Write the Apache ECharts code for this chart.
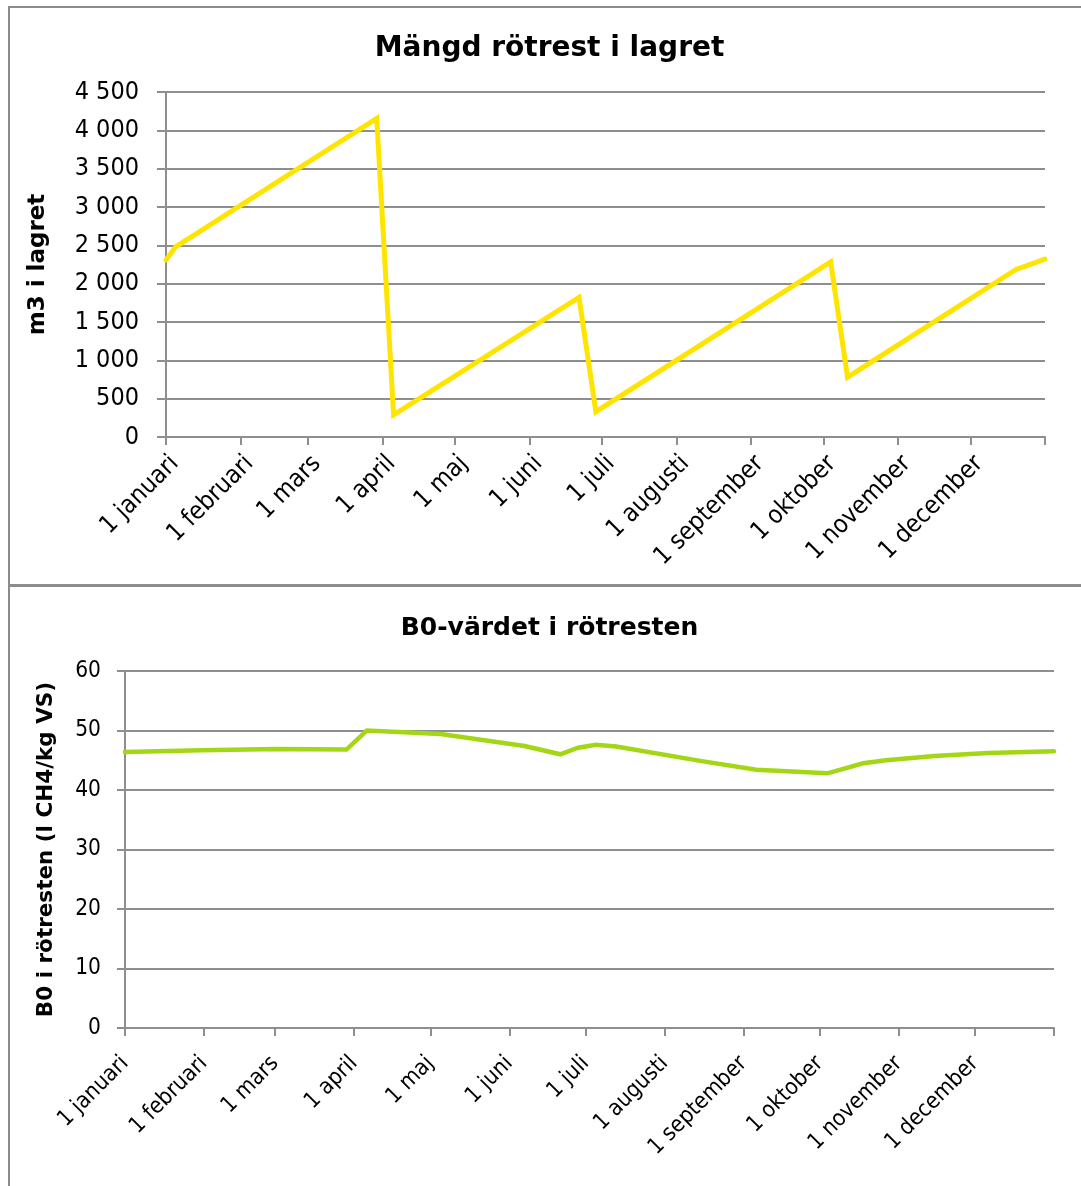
<!DOCTYPE html>
<html>
<head>
<meta charset="utf-8">
<script src="https://cdn.jsdelivr.net/npm/echarts@6/dist/echarts.min.js"></script>
<style>
  html, body { margin: 0; padding: 0; background: #fff; }
  #page { position: relative; width: 1081px; height: 1186px; overflow: hidden; background: #fff; }
  .panel { position: absolute; box-sizing: border-box; border: 2px solid #8c8c8c; background: #fff; }
  #storage { left: 8px; top: 6px; width: 1200px; height: 580px; }
  #b0 { left: 8px; top: 585px; width: 1200px; height: 700px; }
  .chart { position: absolute; left: 0; top: 0; width: 1079px; height: 100%; }
</style>
</head>
<body>
<div id="page">
  <div class="panel" id="storage"><div class="chart" id="storageChart"></div></div>
  <div class="panel" id="b0"><div class="chart" id="b0Chart"></div></div>
</div>
<script>
// Month axis: day-of-year where each month starts, plus the end of the year
const monthLabels = ['1 januari', '1 februari', '1 mars', '1 april', '1 maj', '1 juni',
  '1 juli', '1 augusti', '1 september', '1 oktober', '1 november', '1 december'];
const monthStartDays = [0, 31, 59, 90, 120, 151, 181, 212, 243, 273, 304, 334];
const yearEndDay = 365;

// Amount of digestate in storage (m3), corner points of the fill/empty cycle
const storageDays = [0, 4, 87.5, 94.5, 171.5, 178.5, 276, 283, 353, 365];
const storageVolume = [2310, 2480, 4155, 290, 1820, 330, 2285, 780, 2185, 2320];

// B0 value of the digestate (l CH4/kg VS)
const b0Days = [0, 30, 60, 87, 95, 124, 157, 171, 178, 185, 193, 226, 248, 276, 290, 299, 318, 339, 365];
const b0Values = [46.4, 46.7, 46.9, 46.8, 50.0, 49.4, 47.4, 46.0, 47.1, 47.6, 47.3, 44.9, 43.4, 42.8, 44.5, 45.0, 45.7, 46.2, 46.5];

// Y axis ranges
const storageAxis = { min: 0, max: 4500, interval: 500 };
const b0Axis = { min: 0, max: 60, interval: 10 };

const FONT = "'DejaVu Sans Condensed', 'DejaVu Sans', sans-serif";
const BOLD_FONT = "'DejaVu Sans', sans-serif";
const GRID_COLOR = '#8e8e8e';

function pairs(xs, ys) { return xs.map((x, i) => [x, ys[i]]); }

function spaced(v) {
  if (v < 1000) return String(v);
  const th = Math.floor(v / 1000);
  const rest = String(v % 1000).padStart(3, '0');
  return th + ' ' + rest;
}

function monthLabel(v) {
  const i = monthStartDays.indexOf(v);
  return i >= 0 ? monthLabels[i] : '';
}

function buildOption(cfg) {
  return {
    animation: false,
    backgroundColor: '#fff',
    title: {
      text: cfg.title,
      left: 'center',
      top: cfg.titleTop,
      padding: 0,
      textStyle: { fontFamily: BOLD_FONT, fontWeight: 'bold', fontSize: cfg.titleSize, color: '#000' }
    },
    grid: cfg.grid,
    xAxis: {
      type: 'value',
      min: 0,
      max: yearEndDay,
      axisLine: { show: true, onZero: false, lineStyle: { color: GRID_COLOR, width: 2 } },
      axisTick: {
        show: true, length: 8, inside: false,
        customValues: monthStartDays.concat([yearEndDay]),
        lineStyle: { color: GRID_COLOR, width: 2 }
      },
      axisLabel: {
        show: true,
        customValues: monthStartDays,
        rotate: 45,
        align: 'right',
        verticalAlign: cfg.xLabelVAlign,
        margin: cfg.xLabelMargin,
        formatter: monthLabel,
        fontFamily: FONT, fontSize: cfg.labelSize, color: '#000'
      },
      splitLine: { show: false }
    },
    yAxis: {
      type: 'value',
      min: cfg.yAxis.min,
      max: cfg.yAxis.max,
      interval: cfg.yAxis.interval,
      name: cfg.yName,
      nameLocation: 'middle',
      nameRotate: 90,
      nameGap: cfg.yNameGap,
      nameTextStyle: { fontFamily: BOLD_FONT, fontWeight: 'bold', fontSize: cfg.yNameSize, color: '#000' },
      axisLine: { show: true, lineStyle: { color: GRID_COLOR, width: 2 } },
      axisTick: { show: true, length: cfg.yTickLen, lineStyle: { color: GRID_COLOR, width: 2 } },
      axisLabel: {
        margin: cfg.yLabelMargin,
        formatter: cfg.yFormatter,
        fontFamily: FONT, fontSize: cfg.labelSize, color: '#000'
      },
      splitLine: { show: true, lineStyle: { color: GRID_COLOR, width: 2 } }
    },
    series: [{
      type: 'line',
      data: cfg.data,
      showSymbol: false,
      symbol: 'none',
      lineStyle: { color: cfg.color, width: cfg.lineWidth, cap: 'round', join: 'miter' }
    }]
  };
}

const storageChart = echarts.init(document.getElementById('storageChart'), null, { renderer: 'canvas' });
storageChart.setOption(buildOption({
  title: 'Mängd rötrest i lagret',
  titleTop: 27,
  titleSize: 28,
  grid: { left: 156, top: 84, width: 879, height: 345 },
  xLabelVAlign: 'top',
  xLabelMargin: 14,
  labelSize: 25,
  yAxis: storageAxis,
  yName: 'm3 i lagret',
  yNameGap: 116,
  yNameSize: 23,
  yTickLen: 9,
  yLabelMargin: 27,
  yFormatter: spaced,
  data: pairs(storageDays, storageVolume),
  color: '#FFE400',
  lineWidth: 5
}));

const b0Chart = echarts.init(document.getElementById('b0Chart'), null, { renderer: 'canvas' });
b0Chart.setOption(buildOption({
  title: 'B0-värdet i rötresten',
  titleTop: 29,
  titleSize: 25,
  grid: { left: 115, top: 84, width: 929, height: 357 },
  xLabelVAlign: 'middle',
  xLabelMargin: 32,
  labelSize: 22.5,
  yAxis: b0Axis,
  yName: 'B0 i rötresten (l CH4/kg VS)',
  yNameGap: 68,
  yNameSize: 21.5,
  yTickLen: 8,
  yLabelMargin: 24,
  yFormatter: v => String(v),
  data: pairs(b0Days, b0Values),
  color: '#A3D615',
  lineWidth: 4.5
}));
</script>
</body>
</html>
